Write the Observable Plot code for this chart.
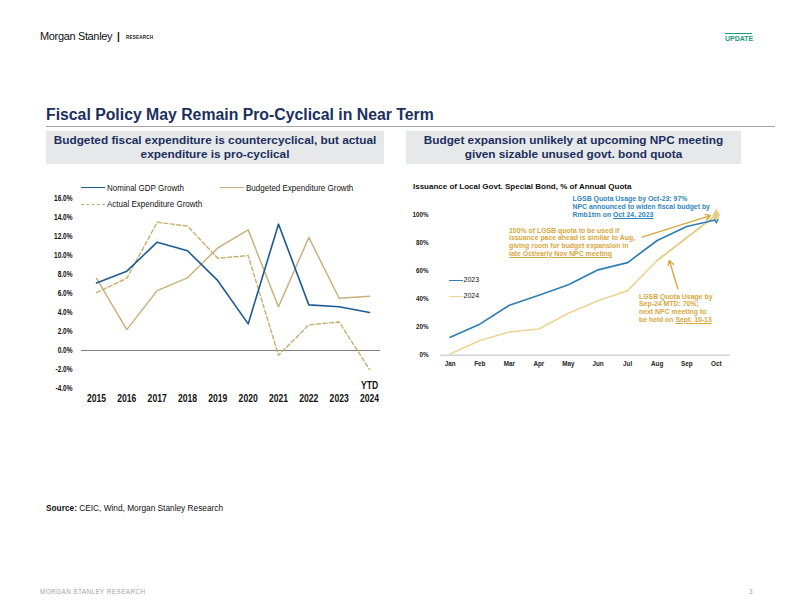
<!DOCTYPE html>
<html>
<head>
<meta charset="utf-8">
<script src="https://cdn.jsdelivr.net/npm/d3@7"></script>
<script src="https://cdn.jsdelivr.net/npm/@observablehq/plot@0.6"></script>
<style>
  html, body { margin: 0; padding: 0; background: #fff; }
  #page { position: relative; width: 792px; height: 612px; overflow: hidden; font-family: "Liberation Sans", Arial, sans-serif; }
  .abs { position: absolute; white-space: nowrap; }
  .box { position: absolute; background: #e7e8ea; color: #1b2f5e; font-weight: bold; font-size: 11.8px; line-height: 13.3px; text-align: center; display: flex; align-items: center; justify-content: center; }
  .leg { position: absolute; white-space: nowrap; font-size: 9px; color: #111; transform: scaleX(0.89); transform-origin: 0 50%; }
  .ann { position: absolute; white-space: nowrap; font-weight: bold; font-size: 6.9px; line-height: 7.8px; }
  .ann u { text-decoration: underline; text-underline-offset: 1px; }
</style>
</head>
<body>
<div id="page">
  <div class="abs" style="left:40px;top:30px;font-size:11px;letter-spacing:-0.35px;color:#111;">Morgan Stanley</div>
  <div class="abs" style="left:117px;top:31px;font-size:10px;color:#111;font-weight:bold;">|</div>
  <div class="abs" style="left:126px;top:35px;font-size:4.6px;color:#222;font-weight:bold;letter-spacing:0.2px;">RESEARCH</div>
  <div class="abs" style="left:725px;top:33px;width:27px;border-top:1.5px solid #1a9b7c;"></div>
  <div class="abs" style="left:725px;top:35px;font-size:7px;color:#1a9b7c;font-weight:bold;">UPDATE</div>

  <div class="abs" style="left:46px;top:106px;font-size:15.8px;font-weight:bold;color:#1b2f5e;">Fiscal Policy May Remain Pro-Cyclical in Near Term</div>
  <div class="abs" style="left:46px;top:126px;width:729px;border-top:1px solid #a6a6a6;"></div>

  <div class="box" style="left:46px;top:131px;width:338px;height:33px;">Budgeted fiscal expenditure is countercyclical, but actual<br>expenditure is pro-cyclical</div>
  <div class="box" style="left:406px;top:131px;width:335px;height:33px;">Budget expansion unlikely at upcoming NPC meeting<br>given sizable unused govt. bond quota</div>

  <!-- left legend -->
  <div class="abs" style="left:81px;top:187px;width:24px;border-top:1.6px solid #1d5b93;"></div>
  <div class="leg" style="left:107px;top:183px;">Nominal GDP Growth</div>
  <div class="abs" style="left:220px;top:187px;width:24px;border-top:1.6px solid #c8b27c;"></div>
  <div class="leg" style="left:246px;top:183px;">Budgeted Expenditure Growth</div>
  <div class="abs" style="left:81px;top:203.5px;width:24px;border-top:1.6px dashed #c9ad6e;"></div>
  <div class="leg" style="left:107px;top:199px;">Actual Expenditure Growth</div>

  <!-- right chart title + legend -->
  <div class="abs" style="left:413px;top:182px;font-size:8px;font-weight:bold;color:#111;">Issuance of Local Govt. Special Bond, % of Annual Quota</div>
  <div class="abs" style="left:449px;top:279.5px;width:14px;border-top:1.6px solid #2f7fb5;"></div>
  <div class="abs" style="left:463.5px;top:276px;font-size:7px;color:#111;">2023</div>
  <div class="abs" style="left:449px;top:295.5px;width:14px;border-top:1.6px solid #ecd596;"></div>
  <div class="abs" style="left:463.5px;top:292px;font-size:7px;color:#111;">2024</div>

  <div class="ann" style="left:572.5px;top:195px;color:#2f86c0;">LGSB Quota Usage by Oct-23: 97%<br>NPC announced to widen fiscal budget by<br>Rmb1trn on <u>Oct 24, 2023</u></div>
  <div class="ann" style="left:509px;top:226.5px;color:#d9a740;">100% of LGSB quota to be used if<br>issuance pace ahead is similar to Aug,<br>giving room for budget expansion in<br><u>late Oct/early Nov NPC meeting</u></div>
  <div class="ann" style="left:639px;top:292.5px;color:#d9a740;">LGSB Quota Usage by<br>Sep-24 MTD: 70%;<br>next NPC meeting to<br>be held on <u>Sept. 10-13</u></div>

  <div class="abs" style="left:46px;top:503px;font-size:8.3px;color:#111;"><b>Source:</b> CEIC, Wind, Morgan Stanley Research</div>
  <div class="abs" style="left:40px;top:587.5px;font-size:6.4px;color:#a3a3a3;letter-spacing:0.4px;">MORGAN STANLEY RESEARCH</div>
  <div class="abs" style="left:749px;top:587.5px;font-size:6.4px;color:#a3a3a3;">3</div>
</div>
<script>
// ---------- Left chart data ----------
const years = [2015, 2016, 2017, 2018, 2019, 2020, 2021, 2022, 2023, 2024];
const nominalGDPGrowth = [7.1, 8.35, 11.4, 10.5, 7.35, 2.8, 13.3, 4.8, 4.6, 4.0];
const budgetedExpenditureGrowth = [7.6, 2.2, 6.3, 7.65, 10.8, 12.7, 4.6, 11.9, 5.5, 5.7];
const actualExpenditureGrowth = [6.1, 7.6, 13.5, 13.1, 9.7, 10.0, -0.5, 2.7, 3.0, -2.0];
const leftYTicks = [-4, -2, 0, 2, 4, 6, 8, 10, 12, 14, 16];
const ytdLabel = "YTD";

// ---------- Right chart data ----------
const months = ["Jan", "Feb", "Mar", "Apr", "May", "Jun", "Jul", "Aug", "Sep", "Oct"];
const quota2023 = [12.9, 22.2, 35.7, 42.8, 50.3, 60.9, 66.1, 81.8, 91.8, 96.6];
const quota2024 = [1.0, 10.6, 16.6, 18.8, 30.0, 38.9, 46.1, 67.6];
const projectionMonths = [8, 10];
const projection2024 = [67.6, 100];
const rightYTicks = [0, 20, 40, 60, 80, 100];
// annotation arrows, in data units (month index, % of quota)
const arrowFromX = [7.49, 8.70];
const arrowFromY = [84.2, 47.4];
const arrowToX = [9.80, 8.41];
const arrowToY = [99.6, 67.6];

const blue = "#1d5b93", tan = "#c8b27c", tanDash = "#c9ad6e";
const blue2 = "#2f7fb5", pale = "#ecd596", gold = "#d9a740";

const page = document.getElementById("page");

const rowsL = years.map((y, i) => ({year: y, gdp: nominalGDPGrowth[i], bud: budgetedExpenditureGrowth[i], act: actualExpenditureGrowth[i]}));

const left = Plot.plot({
  width: 350, height: 230,
  marginTop: 20, marginBottom: 20, marginLeft: 41, marginRight: 10,
  x: {domain: [2015, 2024], range: [56, 329]},
  y: {domain: [-4, 16]},
  style: {fontFamily: '"Liberation Sans", Arial, sans-serif', fontSize: "8.6px", fontWeight: "bold", color: "#111", background: "transparent", overflow: "visible"},
  marks: [
    Plot.ruleY([0], {stroke: "#7f7f7f", strokeWidth: 1.2}),
    Plot.axisY({ticks: leftYTicks, tickSize: 0, tickPadding: 9, tickFormat: d => d.toFixed(1) + "%", label: null, fontSize: 8.8}),
    Plot.axisX({ticks: years, tickSize: 0, tickPadding: 6, tickFormat: d => String(d), label: null, fontSize: 10}),
    Plot.line(rowsL, {x: "year", y: "bud", stroke: tan, strokeWidth: 1.5}),
    Plot.line(rowsL, {x: "year", y: "act", stroke: tanDash, strokeWidth: 1.4, strokeDasharray: "4,2.5"}),
    Plot.line(rowsL, {x: "year", y: "gdp", stroke: blue, strokeWidth: 1.6}),
    Plot.text([years[years.length - 1]], {x: d => d, frameAnchor: "bottom", text: () => ytdLabel, fontWeight: "bold", fontSize: 10})
  ]
});
// condense the tick text (the reference uses a narrow typeface)
function condense(svg, selector, k) {
  svg.querySelectorAll(selector).forEach(t => {
    const tr = t.getAttribute("transform") || "";
    t.setAttribute("transform", tr + ` scale(${k},1)`);
  });
}
condense(left, '[aria-label="y-axis tick label"] text', 0.74);
condense(left, '[aria-label="x-axis tick label"] text', 0.86);
condense(left, '[aria-label="text"] text', 0.86);
left.style.position = "absolute";
left.style.left = "40px";
left.style.top = "178px";
page.appendChild(left);

const rows23 = quota2023.map((v, i) => ({m: i + 1, v}));
const rows24 = quota2024.map((v, i) => ({m: i + 1, v}));
const rowsProj = projectionMonths.map((m, i) => ({m, v: projection2024[i]}));
const rowsArrow = arrowFromX.map((x, i) => ({x1: x, y1: arrowFromY[i], x2: arrowToX[i], y2: arrowToY[i]}));

const right = Plot.plot({
  width: 335, height: 175,
  marginTop: 19.5, marginBottom: 15.2, marginLeft: 35, marginRight: 10,
  x: {domain: [1, 10], range: [44.7, 310.8]},
  y: {domain: [0, 100]},
  style: {fontFamily: '"Liberation Sans", Arial, sans-serif', fontSize: "6.3px", fontWeight: "bold", color: "#222", background: "transparent", overflow: "visible"},
  marks: [
    Plot.ruleY([0], {stroke: "#d4d4d4", strokeWidth: 1.5}),
    Plot.axisY({ticks: rightYTicks, tickSize: 0, tickPadding: 12, tickFormat: d => d + "%", label: null}),
    Plot.axisX({ticks: d3.range(1, 11), tickSize: 0, tickPadding: 6, tickFormat: d => months[d - 1], label: null}),
    Plot.line(rowsProj, {x: "m", y: "v", stroke: "#e3c77c", strokeWidth: 1.8, strokeDasharray: "1.6,1.6"}),
    Plot.line(rows24, {x: "m", y: "v", stroke: pale, strokeWidth: 1.6}),
    Plot.line(rows23, {x: "m", y: "v", stroke: blue2, strokeWidth: 1.7}),
    Plot.dot([rows23[rows23.length - 1]], {x: "m", y: "v", symbol: "diamond", r: 2.6, fill: blue2}),
    Plot.dot([rowsProj[rowsProj.length - 1]], {x: "m", y: "v", symbol: "diamond", r: 4, fill: "#e6cf86"}),
    Plot.arrow(rowsArrow, {x1: "x1", y1: "y1", x2: "x2", y2: "y2", stroke: gold, strokeWidth: 1.4, headLength: 6})
  ]
});
right.style.position = "absolute";
right.style.left = "405px";
right.style.top = "195px";
page.appendChild(right);
</script>
</body>
</html>
